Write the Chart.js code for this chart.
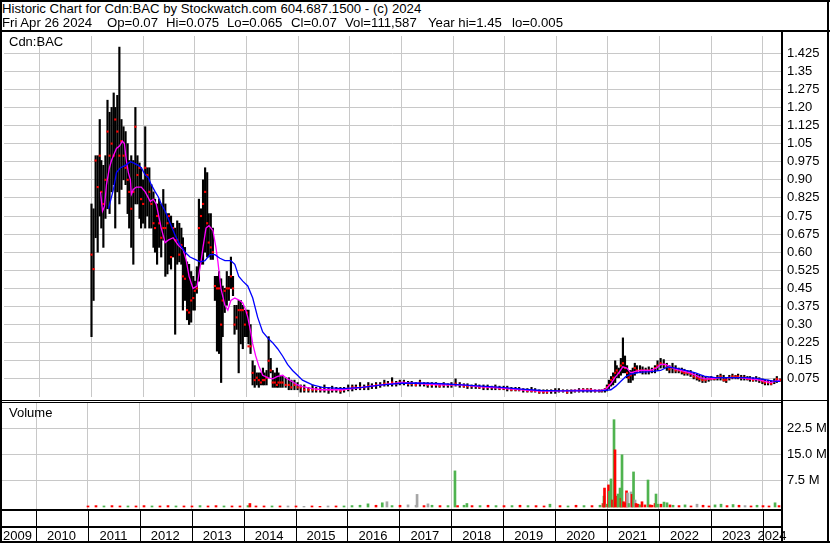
<!DOCTYPE html>
<html><head><meta charset="utf-8">
<script src="https://cdn.jsdelivr.net/npm/chart.js@4.4.1/dist/chart.umd.min.js"></script>
<style>
html,body{margin:0;padding:0;background:#fff;}
#wrap{position:relative;width:830px;height:543px;overflow:hidden;background:#fff;font-family:"Liberation Sans",Arial,sans-serif;color:#000;}
.t{position:absolute;font-size:13px;line-height:15px;white-space:pre;}
.h{position:absolute;font-size:13.2px;line-height:15px;white-space:pre;}
.b{position:absolute;background:#000;}
canvas{position:absolute;left:0;}
</style></head><body>
<div id="wrap">
<canvas id="price" width="830" height="369" style="top:32px"></canvas>
<canvas id="vol" width="830" height="142" style="top:401px"></canvas>
<div class="h" style="left:2px;top:1px">Historic Chart for Cdn:BAC by Stockwatch.com 604.687.1500 - (c) 2024</div>
<div class="h" style="left:2px;top:15px">Fri Apr 26 2024</div>
<div class="h" style="left:107px;top:15px">Op=0.07</div>
<div class="h" style="left:166px;top:15px">Hi=0.075</div>
<div class="h" style="left:227px;top:15px">Lo=0.065</div>
<div class="h" style="left:291px;top:15px">Cl=0.07</div>
<div class="h" style="left:345px;top:15px">Vol=111,587</div>
<div class="h" style="left:428px;top:15px">Year hi=1.45</div>
<div class="h" style="left:512px;top:15px">lo=0.005</div>
<div class="t" style="left:9px;top:34px">Cdn:BAC</div>
<div class="t" style="left:9px;top:405px">Volume</div>
<div class="b" style="left:0;top:0;width:830px;height:2px"></div>
<div class="b" style="left:0;top:30px;width:830px;height:2px"></div>
<div class="b" style="left:0;top:0;width:2px;height:543px"></div>
<div class="b" style="left:827px;top:0;width:2px;height:543px"></div>
<div class="b" style="left:0;top:541px;width:830px;height:2px"></div>
<div class="b" style="left:781px;top:32px;width:2px;height:511px"></div>
<div class="b" style="left:0;top:400px;width:829px;height:1px"></div>
<div class="b" style="left:0;top:402px;width:782px;height:1px"></div>
</div>
<script>
// ---------- axis ranges / ticks ----------
const XMIN = 2009.306, XMAX = 2024.37;
const yearTicks = [2010,2011,2012,2013,2014,2015,2016,2017,2018,2019,2020,2021,2022,2023,2024];
const yearStarts = [2009,2010,2011,2012,2013,2014,2015,2016,2017,2018,2019,2020,2021,2022,2023,2024];
const yearLabels = ['2009','2010','2011','2012','2013','2014','2015','2016','2017','2018','2019','2020','2021','2022','2023','2024'];
const priceTicks = [0.075,0.15,0.225,0.3,0.375,0.45,0.525,0.6,0.675,0.75,0.825,0.9,0.975,1.05,1.125,1.2,1.275,1.35,1.425];
const priceTickLabels = ['0.075','0.15','0.225','0.30','0.375','0.45','0.525','0.60','0.675','0.75','0.825','0.90','0.975','1.05','1.125','1.20','1.275','1.35','1.425'];
const volTicks = [7.5,15,22.5];
const volTickLabels = ['7.5 M','15.0 M','22.5 M'];

// ---------- price bars (decimal year, high, low, close) ----------
const priceDates = [
2011.00,2011.04,2011.08,2011.12,2011.16,2011.19,2011.23,2011.27,2011.31,2011.35,2011.39,2011.43,2011.46,2011.50,2011.54,2011.58,2011.62,2011.66,2011.70,2011.73,
2011.77,2011.81,2011.85,2011.89,2011.93,2011.96,2012.00,2012.04,2012.08,2012.12,2012.16,2012.20,2012.23,2012.27,2012.31,2012.35,2012.39,2012.43,2012.47,2012.50,
2012.54,2012.58,2012.62,2012.66,2012.70,2012.74,2012.77,2012.81,2012.85,2012.89,2012.93,2012.97,2013.00,2013.04,2013.08,2013.12,2013.16,2013.20,2013.24,2013.27,
2013.31,2013.35,2013.39,2013.43,2013.47,2013.51,2013.54,2013.58,2013.62,2013.66,2013.70,2013.74,2013.77,2013.81,2013.85,2013.89,2013.93,2013.97,2014.01,2014.04,
2014.08,2014.12,2014.16,2014.20,2014.24,2014.28,2014.32,2014.35,2014.39,2014.43,2014.47,2014.51,2014.55,2014.59,2014.62,2014.66,2014.70,2014.76,2014.82,2014.87,
2014.93,2014.99,2015.05,
2015.12,2015.20,2015.28,2015.35,2015.43,2015.51,2015.59,2015.66,2015.74,2015.82,2015.89,2015.97,2016.05,2016.12,2016.20,2016.28,2016.36,2016.43,2016.51,2016.59,
2016.67,2016.74,2016.82,2016.90,2016.97,2017.05,2017.13,2017.20,2017.28,2017.36,2017.44,2017.51,2017.59,2017.67,2017.74,2017.82,2017.90,2017.97,2018.05,2018.13,
2018.21,2018.28,2018.36,2018.44,2018.51,2018.59,2018.67,2018.75,2018.82,2018.90,2018.98,2019.05,2019.13,2019.21,2019.28,2019.36,2019.44,2019.52,2019.59,2019.67,
2019.75,2019.82,2019.90,2019.98,2020.05,2020.13,2020.21,2020.29,2020.36,2020.44,2020.52,2020.60,2020.67,2020.75,2020.83,2020.88,2020.94,2020.98,
2021.02,2021.06,2021.10,2021.14,2021.17,2021.21,2021.25,2021.29,2021.33,2021.37,2021.40,2021.44,2021.48,2021.52,2021.56,2021.62,2021.67,2021.73,2021.79,2021.85,
2021.91,2021.96,2022.02,2022.08,2022.14,2022.19,2022.25,2022.31,2022.37,2022.43,2022.48,2022.54,2022.60,2022.66,2022.72,2022.77,2022.83,2022.89,2022.95,2023.00,
2023.06,2023.12,2023.18,2023.24,2023.29,2023.35,2023.41,2023.47,2023.52,2023.58,2023.64,2023.70,2023.75,2023.81,2023.87,2023.93,2023.99,2024.04,2024.10,2024.16,
2024.22,2024.27,2024.33];
const priceHigh = [
0.80,0.78,1.00,1.00,1.15,0.98,0.96,1.00,1.23,1.18,1.20,1.26,1.20,1.25,1.45,1.15,1.12,1.10,1.05,0.98,
1.00,0.98,1.20,1.00,0.97,0.95,0.90,1.12,0.95,0.95,0.88,0.85,0.82,0.80,0.82,0.80,0.86,0.80,0.76,0.76,
0.75,0.72,0.70,0.73,0.72,0.70,0.66,0.62,0.56,0.55,0.52,0.50,0.48,0.54,0.82,0.78,0.90,0.95,0.93,0.76,
0.76,0.70,0.50,0.50,0.52,0.49,0.46,0.45,0.52,0.50,0.58,0.50,0.38,0.38,0.40,0.40,0.38,0.36,0.36,0.36,
0.30,0.15,0.13,0.10,0.10,0.10,0.12,0.10,0.11,0.25,0.16,0.11,0.10,0.12,0.10,0.09,0.09,0.08,0.08,0.07,
0.07,0.06,0.05,
0.05,0.04,0.05,0.04,0.04,0.05,0.04,0.045,0.04,0.04,0.04,0.05,0.05,0.05,0.06,0.05,0.06,0.055,0.06,0.06,
0.07,0.065,0.08,0.065,0.07,0.07,0.065,0.065,0.06,0.07,0.06,0.06,0.06,0.06,0.055,0.06,0.055,0.06,0.075,0.06,
0.055,0.055,0.05,0.055,0.05,0.05,0.05,0.045,0.05,0.045,0.045,0.045,0.04,0.04,0.04,0.035,0.035,0.04,0.035,0.03,
0.03,0.03,0.03,0.035,0.035,0.03,0.03,0.03,0.03,0.035,0.035,0.035,0.035,0.03,0.03,0.03,0.035,0.05,
0.07,0.085,0.10,0.15,0.13,0.12,0.16,0.245,0.17,0.13,0.11,0.11,0.12,0.14,0.13,0.13,0.125,0.12,0.125,0.12,
0.13,0.15,0.16,0.155,0.14,0.13,0.14,0.13,0.12,0.12,0.115,0.11,0.11,0.10,0.095,0.09,0.09,0.085,0.08,0.085,
0.08,0.09,0.095,0.09,0.08,0.09,0.095,0.09,0.095,0.09,0.09,0.085,0.085,0.08,0.085,0.08,0.075,0.07,0.07,0.065,
0.075,0.085,0.075];
const priceLow = [
0.25,0.40,0.66,0.60,0.75,0.70,0.62,0.74,0.78,0.76,0.85,0.88,0.70,0.85,0.80,0.86,0.90,0.88,0.76,0.70,
0.62,0.55,0.80,0.80,0.74,0.70,0.72,0.70,0.75,0.70,0.70,0.62,0.60,0.55,0.62,0.58,0.65,0.50,0.51,0.55,
0.53,0.58,0.26,0.55,0.56,0.55,0.36,0.40,0.32,0.30,0.31,0.36,0.36,0.43,0.48,0.55,0.55,0.60,0.58,0.58,
0.57,0.57,0.40,0.19,0.18,0.06,0.25,0.35,0.38,0.40,0.45,0.42,0.26,0.28,0.10,0.22,0.20,0.25,0.25,0.22,
0.18,0.05,0.04,0.05,0.04,0.05,0.05,0.05,0.05,0.08,0.10,0.04,0.04,0.04,0.04,0.04,0.04,0.04,0.03,0.03,
0.03,0.03,0.02,
0.02,0.02,0.02,0.02,0.02,0.02,0.015,0.02,0.02,0.015,0.02,0.025,0.025,0.03,0.03,0.03,0.03,0.035,0.035,0.04,
0.045,0.045,0.045,0.045,0.05,0.05,0.045,0.045,0.045,0.045,0.045,0.04,0.04,0.04,0.04,0.04,0.04,0.04,0.045,0.04,
0.04,0.035,0.035,0.035,0.035,0.03,0.03,0.03,0.03,0.03,0.03,0.025,0.025,0.025,0.025,0.02,0.02,0.02,0.02,0.015,
0.015,0.015,0.015,0.015,0.02,0.02,0.015,0.015,0.02,0.02,0.02,0.02,0.02,0.02,0.02,0.02,0.02,0.025,
0.035,0.045,0.05,0.06,0.08,0.08,0.09,0.10,0.10,0.08,0.06,0.06,0.07,0.09,0.10,0.10,0.095,0.095,0.095,0.10,
0.10,0.11,0.12,0.12,0.11,0.10,0.10,0.10,0.10,0.095,0.09,0.09,0.085,0.075,0.07,0.065,0.06,0.06,0.065,0.07,
0.07,0.07,0.07,0.065,0.06,0.07,0.075,0.075,0.075,0.07,0.07,0.07,0.065,0.065,0.065,0.06,0.055,0.05,0.05,0.05,
0.055,0.06,0.065];
const priceClose = [
0.59,0.53,0.98,0.87,1.00,0.85,0.80,0.90,1.10,1.00,1.05,1.00,1.15,1.10,1.00,1.06,1.00,0.95,0.90,0.85,
0.78,0.85,1.12,0.92,0.95,0.82,0.80,0.95,0.92,0.85,0.80,0.72,0.70,0.75,0.72,0.66,0.70,0.70,0.72,0.75,
0.58,0.70,0.65,0.65,0.59,0.63,0.50,0.49,0.36,0.35,0.40,0.41,0.44,0.45,0.70,0.75,0.80,0.85,0.72,0.64,
0.62,0.60,0.46,0.45,0.45,0.30,0.40,0.44,0.45,0.45,0.50,0.45,0.30,0.33,0.36,0.36,0.36,0.30,0.35,0.21,
0.21,0.10,0.07,0.08,0.07,0.06,0.07,0.07,0.08,0.15,0.11,0.06,0.06,0.05,0.06,0.06,0.06,0.05,0.05,0.04,
0.05,0.04,0.04,
0.03,0.03,0.03,0.03,0.03,0.03,0.03,0.03,0.03,0.025,0.03,0.035,0.04,0.04,0.04,0.04,0.045,0.045,0.05,0.05,
0.055,0.055,0.06,0.055,0.06,0.06,0.055,0.055,0.05,0.06,0.055,0.05,0.05,0.05,0.045,0.05,0.05,0.05,0.055,0.05,
0.045,0.045,0.045,0.045,0.04,0.04,0.04,0.04,0.04,0.035,0.035,0.035,0.03,0.03,0.03,0.03,0.025,0.025,0.025,0.02,
0.02,0.02,0.025,0.025,0.025,0.025,0.02,0.025,0.025,0.025,0.03,0.03,0.03,0.025,0.025,0.025,0.03,0.04,
0.05,0.07,0.08,0.10,0.11,0.10,0.13,0.14,0.12,0.10,0.08,0.09,0.10,0.12,0.11,0.11,0.11,0.11,0.11,0.11,
0.12,0.13,0.14,0.135,0.125,0.115,0.12,0.11,0.11,0.105,0.10,0.10,0.095,0.085,0.08,0.075,0.07,0.07,0.075,0.075,
0.075,0.08,0.085,0.07,0.07,0.08,0.085,0.085,0.085,0.08,0.08,0.075,0.075,0.07,0.075,0.07,0.065,0.06,0.06,0.055,
0.065,0.075,0.07];

// ---------- moving averages ----------
const maFastDates = [2011.175,2011.213,2011.252,2011.29,2011.348,2011.387,2011.425,2011.483,2011.541,2011.598,2011.637,2011.675,2011.714,2011.753,2011.772,2011.81,2011.868,2011.964,2012.041,2012.138,
2012.196,2012.253,2012.292,2012.35,2012.427,2012.485,2012.581,2012.677,2012.774,2012.831,2012.889,2012.966,2013.043,2013.12,2013.159,2013.217,2013.274,2013.351,2013.409,2013.448,
2013.506,2013.583,2013.64,2013.698,2013.775,2013.872,2013.929,2013.987,2014.026,2014.083,2014.122,2014.18,2014.238,2014.315,2014.411,2014.507,2014.604,2014.70,2014.796,2014.893,
2014.989,2015.085,2015.278,2015.47,2015.856,2016.241,2016.626,2017.012,2017.397,2017.782,2018.167,2018.553,2018.938,2019.323,2019.709,2020.094,2020.479,2020.864,2020.961,2021.057,
2021.134,2021.211,2021.288,2021.365,2021.442,2021.519,2021.635,2021.828,2021.943,2022.02,2022.117,2022.213,2022.309,2022.406,2022.598,2022.791,2022.887,2022.983,2023.176,2023.369,
2023.561,2023.754,2023.947,2024.139,2024.236,2024.332];
const maFastValues = [0.85,0.77,0.79,0.88,0.95,0.98,1.00,1.03,1.04,1.06,1.05,0.98,0.93,0.90,0.84,0.86,0.87,0.87,0.85,0.81,
0.82,0.80,0.76,0.70,0.64,0.65,0.66,0.63,0.61,0.57,0.50,0.45,0.46,0.56,0.62,0.70,0.71,0.69,0.62,0.56,
0.45,0.38,0.36,0.40,0.41,0.40,0.39,0.36,0.33,0.27,0.22,0.17,0.13,0.09,0.08,0.075,0.085,0.09,0.075,0.063,
0.05,0.043,0.035,0.03,0.03,0.04,0.05,0.06,0.055,0.05,0.05,0.042,0.037,0.03,0.024,0.025,0.028,0.027,0.032,0.055,
0.08,0.10,0.125,0.12,0.10,0.105,0.11,0.11,0.12,0.135,0.135,0.125,0.115,0.11,0.10,0.08,0.075,0.075,0.08,0.08,
0.08,0.075,0.07,0.06,0.065,0.07];
const maSlowDates = [2011.329,2011.425,2011.483,2011.56,2011.656,2011.753,2011.81,2011.907,2011.964,2012.041,2012.099,2012.157,2012.234,2012.292,2012.35,2012.427,2012.523,2012.619,2012.716,2012.812,
2012.908,2013.005,2013.101,2013.197,2013.294,2013.39,2013.486,2013.583,2013.698,2013.775,2013.852,2013.929,2014.026,2014.122,2014.218,2014.315,2014.411,2014.507,2014.604,2014.70,
2014.796,2014.893,2014.989,2015.085,2015.278,2015.47,2015.856,2016.241,2016.626,2017.012,2017.397,2017.782,2018.167,2018.553,2018.938,2019.323,2019.709,2020.094,2020.479,2020.864,
2021.057,2021.153,2021.25,2021.346,2021.442,2021.635,2021.828,2022.02,2022.155,2022.309,2022.502,2022.694,2022.887,2023.08,2023.369,2023.658,2023.85,2024.043,2024.236,2024.332];
const maSlowValues = [0.78,0.86,0.93,0.95,0.96,0.975,0.97,0.96,0.95,0.92,0.91,0.88,0.85,0.83,0.80,0.77,0.72,0.67,0.63,0.60,
0.58,0.57,0.56,0.565,0.59,0.59,0.575,0.565,0.565,0.55,0.50,0.48,0.46,0.41,0.33,0.27,0.245,0.225,0.20,0.17,
0.135,0.11,0.09,0.07,0.05,0.04,0.035,0.04,0.05,0.057,0.058,0.055,0.05,0.045,0.04,0.033,0.027,0.025,0.025,0.025,
0.03,0.045,0.065,0.085,0.095,0.103,0.105,0.11,0.125,0.12,0.11,0.10,0.085,0.08,0.08,0.08,0.078,0.072,0.065,0.065];

// ---------- volume (millions of shares) and day direction (u = up, d = down, n = unchanged) ----------
const volDates = [2011.001,2011.155,2011.309,2011.463,2011.617,2011.771,2011.926,2012.080,2012.234,2012.388,2012.542,2012.696,2012.850,2013.004,2013.159,2013.313,2013.467,2013.621,2013.775,2013.929,
2014.083,2014.12,2014.237,2014.392,2014.546,2014.700,2014.854,2015.008,2015.162,2015.316,2015.470,2015.625,2015.779,2015.933,2016.087,2016.241,2016.395,2016.549,2016.67,2016.76,
2016.858,2017.012,2017.166,2017.320,2017.34,2017.474,2017.55,2017.628,2017.782,2017.936,2018.07,2018.12,2018.245,2018.30,2018.399,2018.553,2018.707,2018.861,2019.015,2019.169,
2019.323,2019.477,2019.632,2019.786,2019.90,2020.094,2020.248,2020.402,2020.556,2020.710,2020.864,2020.922,2020.94,2020.951,2020.999,2021.028,2021.045,2021.076,2021.105,2021.134,
2021.153,2021.192,2021.211,2021.25,2021.269,2021.288,2021.317,2021.346,2021.375,2021.394,2021.423,2021.462,2021.481,2021.510,2021.539,2021.558,2021.596,2021.635,2021.673,2021.731,
2021.789,2021.828,2021.866,2021.924,2021.943,2021.982,2022.039,2022.097,2022.155,2022.213,2022.271,2022.386,2022.502,2022.617,2022.733,2022.849,2022.964,2023.08,2023.195,2023.311,
2023.427,2023.542,2023.658,2023.773,2023.889,2024.004,2024.12,2024.236,2024.313];
const volMillions = [0.3,0.4,0.3,0.4,0.3,0.3,0.3,0.4,0.3,0.3,0.4,0.3,0.3,0.3,0.4,0.3,0.4,0.3,0.3,0.3,
0.4,1.0,0.3,0.3,0.3,0.3,0.3,0.3,0.2,0.3,0.2,0.3,0.3,0.3,0.4,0.5,0.9,0.5,1.2,1.5,
0.4,0.5,0.6,0.5,3.6,0.4,0.9,0.5,0.4,0.4,10.3,0.4,0.5,1.0,0.4,0.4,0.5,0.4,0.4,0.4,
0.5,0.4,0.4,0.3,0.8,0.4,0.3,0.5,0.4,0.4,0.5,1.0,3.1,5.4,0.8,6.3,4.5,8.0,2.0,24.9,
16.3,3.1,3.7,5.4,2.5,14.9,1.5,1.2,4.6,4.0,1.0,4.3,3.6,10.0,2.0,1.0,0.8,0.6,1.5,0.6,
7.7,0.6,0.5,1.0,3.7,0.8,0.8,1.4,1.2,0.6,0.5,0.4,0.6,0.3,0.8,0.5,0.3,0.6,0.8,0.4,
0.7,0.5,0.4,0.3,0.5,0.4,0.3,1.2,0.4];
const volDir = ['d','d','u','d','d','u','d','d','u','d','d','u','d','d','u','d','d','u','d','d',
'u','d','d','d','u','d','n','d','n','d','d','n','d','u','u','u','u','d','u','n',
'u','d','n','n','n','d','n','u','d','u','u','d','u','u','d','u','d','u','d','u',
'd','u','d','d','u','d','u','d','u','d','u','d','u','d','u','d','u','u','d','u',
'd','d','u','u','d','u','d','d','d','n','u','n','d','u','n','d','d','u','d','d',
'u','d','d','d','u','u','d','u','u','d','u','d','u','d','n','d','d','u','u','d',
'u','d','n','d','u','d','d','u','d'];

// ---------- build datasets ----------
const bars = priceDates.map((d, i) => ({x: d, y: [priceLow[i], priceHigh[i]]}));
const closes = priceDates.map((d, i) => ({x: d, y: priceClose[i]}));
const maFast = maFastDates.map((d, i) => ({x: d, y: maFastValues[i]}));
const maSlow = maSlowDates.map((d, i) => ({x: d, y: maSlowValues[i]}));
const dirColor = {u: '#4fb34f', d: '#ff0000', n: '#a6a6a6'};
const volData = volDates.map((d, i) => ({x: d, y: volMillions[i]}));
const volColors = volDir.map(k => dirColor[k]);

Chart.defaults.font.family = '"Liberation Sans", Arial, sans-serif';
Chart.defaults.font.size = 13;
Chart.defaults.color = '#000';

const GRID = '#c8c8c8';
const xScale = (h) => ({
  type: 'linear', min: XMIN, max: XMAX, offset: false, position: 'bottom',
  grid: {color: GRID, drawTicks: false, offset: false},
  border: {display: false},
  ticks: {display: false},
  afterBuildTicks: s => { s.ticks = yearTicks.map(v => ({value: v})); },
  afterFit: s => { s.height = h; s.paddingLeft = 0; s.paddingRight = 0; }
});

new Chart(document.getElementById('price'), {
  type: 'bar',
  data: {datasets: [
    {type: 'line', data: maSlow, borderColor: '#0000ff', borderWidth: 1.3, pointRadius: 0, tension: 0, order: 0},
    {type: 'line', data: maFast, borderColor: '#ff00ff', borderWidth: 1.3, pointRadius: 0, tension: 0, order: 1},
    {type: 'line', data: closes, showLine: false, pointStyle: 'rect', pointRadius: 1.5,
     pointBackgroundColor: '#ff0000', pointBorderWidth: 0, order: 2},
    {type: 'bar', data: bars, backgroundColor: '#000', barThickness: 1.5, order: 3}
  ]},
  options: {
    responsive: false, animation: false, events: [], devicePixelRatio: 1,
    layout: {padding: 0},
    plugins: {legend: {display: false}, tooltip: {enabled: false}},
    scales: {
      x: xScale(0),
      y: {
        position: 'right', min: 0, max: 1.496,
        grid: {color: GRID, drawTicks: false},
        border: {display: true, color: '#000', width: 2},
        ticks: {autoSkip: false, padding: 5, color: '#000', callback: (v, i) => priceTickLabels[i]},
        afterBuildTicks: s => { s.ticks = priceTicks.map(v => ({value: v})); },
        afterFit: s => { s.width = 48; s.paddingTop = 0; s.paddingBottom = 0; }
      }
    }
  }
});

const yearRow = {
  id: 'yearRow',
  afterDraw(chart) {
    const {ctx, chartArea: a, scales: {x}} = chart;
    const top = a.bottom, H = chart.height;
    ctx.save();
    ctx.fillStyle = '#000';
    ctx.fillRect(0, top, a.right, 2);
    ctx.fillRect(0, top + 17, a.right, 2);
    yearTicks.forEach(v => {
      const px = Math.round(x.getPixelForValue(v));
      ctx.fillRect(px, top, 1, H - top);
    });
    ctx.font = '13px "Liberation Sans", Arial, sans-serif';
    ctx.textAlign = 'center';
    ctx.textBaseline = 'alphabetic';
    yearLabels.forEach((lab, i) => {
      const l = Math.max(a.left, x.getPixelForValue(yearStarts[i]));
      const r = Math.min(a.right, x.getPixelForValue(yearStarts[i] + 1));
      ctx.fillText(lab, (l + r) / 2 - 0.5, top + 31);
    });
    ctx.restore();
  }
};

new Chart(document.getElementById('vol'), {
  type: 'bar',
  data: {datasets: [
    {type: 'bar', data: volData, backgroundColor: volColors, barThickness: 2}
  ]},
  options: {
    responsive: false, animation: false, events: [], devicePixelRatio: 1,
    layout: {padding: {top: 2}},
    plugins: {legend: {display: false}, tooltip: {enabled: false}},
    scales: {
      x: xScale(34),
      y: {
        position: 'right', min: -0.57, max: 29.66,
        grid: {color: GRID, drawTicks: false},
        border: {display: true, color: '#000', width: 2},
        ticks: {autoSkip: false, padding: 5, color: '#000', callback: (v, i) => volTickLabels[i]},
        afterBuildTicks: s => { s.ticks = volTicks.map(v => ({value: v})); },
        afterFit: s => { s.width = 48; s.paddingTop = 0; s.paddingBottom = 0; }
      }
    }
  },
  plugins: [yearRow]
});
</script>
</body></html>
